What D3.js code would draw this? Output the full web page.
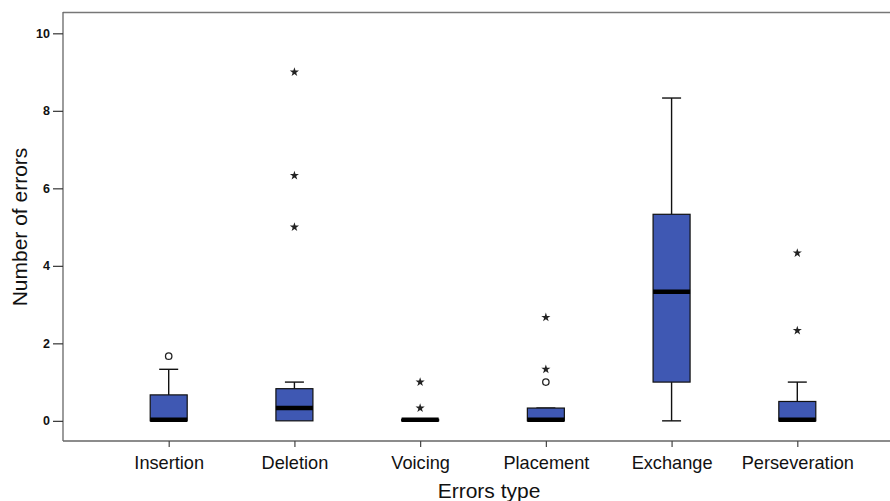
<!DOCTYPE html>
<html><head><meta charset="utf-8">
<script src="https://cdn.jsdelivr.net/npm/d3@7"></script>
<style>body{margin:0;background:#fff}svg{display:block}</style>
</head><body>
<script>
const categories = ["Insertion","Deletion","Voicing","Placement","Exchange","Perseveration"];
const whiskerLow = [0, 0, 0, 0, 0, 0];
const q1 = [0, 0, 0, 0, 1.0, 0];
const median = [0, 0.33, 0, 0, 3.33, 0];
const q3 = [0.67, 0.83, 0.04, 0.33, 5.33, 0.5];
const whiskerHigh = [1.33, 1.0, 0.04, 0.33, 8.33, 1.0];
const outliersCircle = [[1.67], [], [], [1.0], [], []];
const outliersStar = [[], [9, 6.33, 5], [1.0, 0.33], [1.33, 2.67], [], [4.33, 2.33]];
const yTicks = [0, 2, 4, 6, 8, 10];

(function () {
const W = 890, H = 501;
const mLeft = 63, mTop = 12, mBottom = 441, mRight = 890;
const font = "Liberation Sans, Arial, sans-serif";
const svg = d3.select("body").append("svg").attr("width", W).attr("height", H);

const y = d3.scaleLinear().domain([-0.52, 10.55]).range([mBottom, mTop]);
const x = d3.scalePoint().domain(categories).range([168.7, 797.3]);

svg.append("line").attr("x1", mLeft).attr("x2", mRight).attr("y1", mTop + 0.5).attr("y2", mTop + 0.5).attr("stroke", "#777").attr("stroke-width", 1.3);

const yAxis = svg.append("g").attr("transform", `translate(${mLeft},0)`)
  .call(d3.axisLeft(y).tickValues(yTicks).tickSize(10).tickPadding(3).tickFormat(d3.format("d")));
yAxis.select(".domain").attr("stroke", "#666").attr("stroke-width", 1.3).attr("d", `M0,${mTop}V${mBottom}`);
yAxis.selectAll(".tick line").attr("stroke", "#333").attr("stroke-width", 1.2);
yAxis.selectAll(".tick text").attr("font-family", font).attr("font-size", 12.5).attr("font-weight", "bold").attr("fill", "#111");

const xAxis = svg.append("g").attr("transform", `translate(0,${mBottom})`)
  .call(d3.axisBottom(x).tickSize(6).tickPadding(9));
xAxis.select(".domain").attr("stroke", "#666").attr("stroke-width", 1.3).attr("d", `M${mLeft},0H${mRight}`);
xAxis.selectAll(".tick line").attr("stroke", "#444").attr("stroke-width", 1.2);
xAxis.selectAll(".tick text").attr("font-family", font).attr("font-size", 18.2).attr("fill", "#111").attr("dy", "0.69em");

svg.append("text").attr("x", 489).attr("y", 498).attr("text-anchor", "middle")
  .attr("font-family", font).attr("font-size", 21).attr("fill", "#111").text("Errors type");
svg.append("text").attr("transform", `translate(26.7,227) rotate(-90)`).attr("text-anchor", "middle")
  .attr("font-family", font).attr("font-size", 21).attr("fill", "#111").text("Number of errors");

const boxW = 37, capW = 19;
const data = categories.map((c, i) => ({c, lo: whiskerLow[i], q1: q1[i], med: median[i], q3: q3[i], hi: whiskerHigh[i], oc: outliersCircle[i], os: outliersStar[i]}));
const g = svg.append("g");
data.forEach(d => {
  const cx = x(d.c);
  const gg = g.append("g");
  if (d.hi > d.q3) {
    gg.append("line").attr("x1", cx).attr("x2", cx).attr("y1", y(d.q3)).attr("y2", y(d.hi)).attr("stroke", "#111").attr("stroke-width", 1.4);
  }
  if (d.hi > d.q3 || d.c === "Placement") {
    gg.append("line").attr("x1", cx - capW / 2).attr("x2", cx + capW / 2).attr("y1", y(d.hi)).attr("y2", y(d.hi)).attr("stroke", "#111").attr("stroke-width", 1.4);
  }
  if (d.lo < d.q1) {
    gg.append("line").attr("x1", cx).attr("x2", cx).attr("y1", y(d.q1)).attr("y2", y(d.lo)).attr("stroke", "#111").attr("stroke-width", 1.4);
    gg.append("line").attr("x1", cx - capW / 2).attr("x2", cx + capW / 2).attr("y1", y(d.lo)).attr("y2", y(d.lo)).attr("stroke", "#111").attr("stroke-width", 1.4);
  }
  gg.append("rect").attr("x", cx - boxW / 2).attr("width", boxW)
    .attr("y", y(d.q3)).attr("height", Math.max(0.5, y(d.q1) - y(d.q3)))
    .attr("fill", "#3F58B3").attr("stroke", "#111").attr("stroke-width", 1.2);
  const off = d.med === d.q1 ? 1.2 : 0;
  gg.append("line").attr("x1", cx - boxW / 2).attr("x2", cx + boxW / 2)
    .attr("y1", y(d.med) - off).attr("y2", y(d.med) - off)
    .attr("stroke", "#000").attr("stroke-width", 4.5);
  d.oc.forEach(v => {
    gg.append("circle").attr("cx", cx).attr("cy", y(v)).attr("r", 3.2).attr("fill", "none").attr("stroke", "#222").attr("stroke-width", 1.3);
  });
  d.os.forEach(v => {
    gg.append("path").attr("transform", `translate(${cx},${y(v)})`)
      .attr("d", d3.symbol(d3.symbolStar, 26)()).attr("fill", "#222");
  });
});
})();
</script>
</body></html>
